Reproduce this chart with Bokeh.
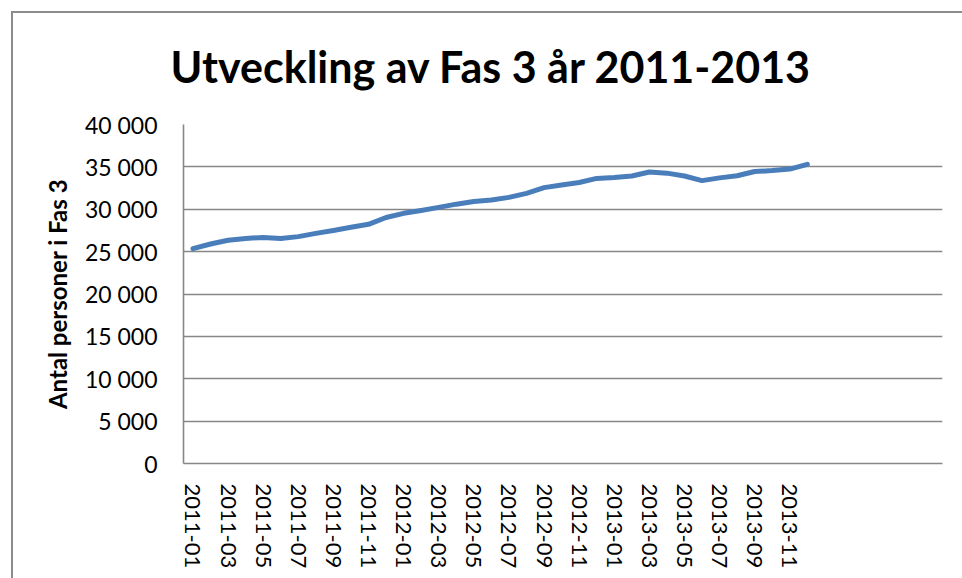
from bokeh.plotting import figure
from bokeh.models import FixedTicker, Range1d, Title
from bokeh.embed import file_html
from bokeh.resources import INLINE

months = [f"{y}-{m:02d}" for y in (2011, 2012, 2013) for m in range(1, 13)]
values = [25350, 25900, 26350, 26550, 26680, 26550, 26770, 27150, 27500, 27870,
          28220, 29030, 29520, 29850, 30220, 30600, 30920, 31100, 31400, 31880,
          32550, 32850, 33150, 33640, 33740, 33920, 34400, 34260, 33920, 33380,
          33700, 33950, 34450, 34560, 34740, 35300]
y_ticks = [0, 5000, 10000, 15000, 20000, 25000, 30000, 35000, 40000]
title_text = "Utveckling av Fas 3 år 2011-2013"
y_label = "Antal personer i Fas 3"

FONT = "Lato"
x_idx = list(range(len(months)))

p = figure(width=962, height=578, output_backend="svg", toolbar_location=None,
           x_range=Range1d(-0.54, 42.7), y_range=Range1d(0, 40000),
           min_border_left=183, min_border_right=20, min_border_top=124,
           min_border_bottom=115)
p.styles = {"box-shadow": "inset 11px 11px 0 #ffffff, inset 13px 13px 0 #8c8c8c"}
p.border_fill_alpha = 0
p.background_fill_color = "white"
p.outline_line_color = None

p.line(x_idx, values, line_color="#4a7ebb", line_width=5,
       line_cap="round", line_join="round")

# y axis
p.yaxis.ticker = FixedTicker(ticks=y_ticks)
p.yaxis.major_label_overrides = {t: f"{t:,}".replace(",", " ") for t in y_ticks}
p.yaxis.major_label_text_font = FONT
p.yaxis.major_label_text_font_size = "23px"
p.yaxis.major_label_text_color = "black"
p.yaxis.major_tick_out = 0
p.yaxis.major_tick_in = 0
p.yaxis.minor_tick_out = 0
p.yaxis.minor_tick_in = 0
p.yaxis.major_label_standoff = 26
p.yaxis.axis_line_color = "#878787"
p.yaxis.axis_line_width = 1.6
p.yaxis.axis_label = y_label
p.yaxis.axis_label_text_font = FONT
p.yaxis.axis_label_text_font_style = "bold"
p.yaxis.axis_label_text_font_size = "24px"
p.yaxis.axis_label_text_color = "black"
p.yaxis.axis_label_standoff = 10

# x axis
p.xaxis.ticker = FixedTicker(ticks=x_idx[::2])
p.xaxis.major_label_overrides = {i: months[i] for i in x_idx}
p.xaxis.major_label_orientation = "vertical"
p.xaxis.major_label_text_font = FONT
p.xaxis.major_label_text_font_size = "22px"
p.xaxis.major_label_text_color = "black"
p.xaxis.major_tick_out = 0
p.xaxis.major_tick_in = 0
p.xaxis.minor_tick_out = 0
p.xaxis.minor_tick_in = 0
p.xaxis.major_label_standoff = 20
p.xaxis.axis_line_color = "#878787"
p.xaxis.axis_line_width = 1.6

p.xgrid.grid_line_color = None
p.ygrid.ticker = FixedTicker(ticks=y_ticks)
p.ygrid.grid_line_color = "#878787"
p.ygrid.grid_line_width = 1.6

p.title = None
t = Title(text=title_text, text_font=FONT, text_font_style="bold",
          text_font_size="43px", text_color="black", align="left",
          offset=-13, standoff=62, vertical_align="top")
p.add_layout(t, "above")

open("out.html", "w").write(file_html(p, INLINE))
